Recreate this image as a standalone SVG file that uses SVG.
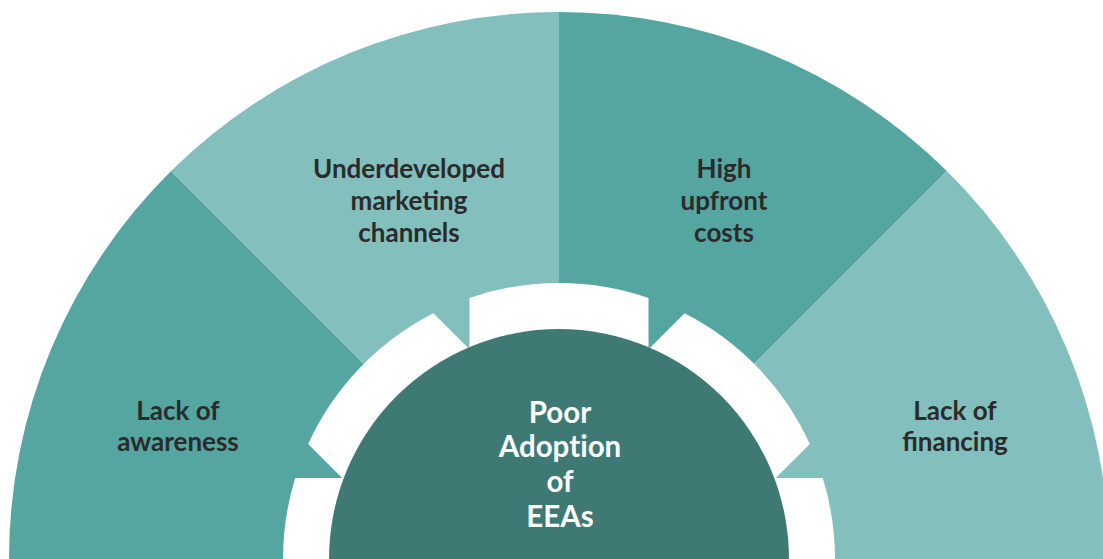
<svg xmlns="http://www.w3.org/2000/svg" width="1103" height="559" viewBox="0 0 1103 559">
  <style>
    .dark { fill: #55A5A1; }
    .light { fill: #82BFBD; }
    .ring { fill: #FFFFFF; }
    .hub { fill: #3E7973; }
    .lbl { font-family: Lato, "Open Sans", "Liberation Sans", sans-serif; font-weight: 700; font-size: 26px; fill: #2B2B2B; text-anchor: middle; }
    .hubtxt { font-family: Lato, "Open Sans", "Liberation Sans", sans-serif; font-weight: 700; font-size: 29.5px; fill: #FFFFFF; text-anchor: middle; font-variant-ligatures: none; }
  </style>
  <rect width="1103" height="559" fill="#FFFFFF"/>
  <g id="node-awareness">
    <path class="dark" d="M559,559 L9,559 A550 547 0 0 1 171.1,171.1 Z"/>
    <text class="lbl" x="178" y="420">Lack of</text>
    <text class="lbl" x="178" y="451">awareness</text>
  </g>
  <g id="node-marketing">
    <path class="light" d="M559,559 L171.1,171.1 A550 547 0 0 1 559,12 Z"/>
    <text class="lbl" x="409" y="178">Underdeveloped</text>
    <text class="lbl" x="409" y="210">marketing</text>
    <text class="lbl" x="409" y="242">channels</text>
  </g>
  <g id="node-costs">
    <path class="dark" d="M559,559 L559,12 A550 547 0 0 1 946.9,171.1 Z"/>
    <text class="lbl" x="724" y="178">High</text>
    <text class="lbl" x="724" y="210">upfront</text>
    <text class="lbl" x="724" y="242">costs</text>
  </g>
  <g id="node-financing">
    <path class="light" d="M559,559 L946.9,171.1 A550 547 0 0 1 1109,559 Z"/>
    <text class="lbl" x="955" y="420">Lack of</text>
    <text class="lbl" x="955" y="451">financing</text>
  </g>
  <g id="ring">
    <path class="ring" d="M295.2,478 A276 276 0 0 0 283.1,565 L400,565 L400,478 Z"/>
    <path class="ring" d="M433.4,313.2 A276 276 0 0 0 308.1,443.9 L385,520.8 L513,392.8 Z"/>
    <path class="ring" d="M469.5,297.9 A276 276 0 0 1 648.5,297.9 L648.5,420 L469.5,420 Z"/>
    <path class="ring" d="M684.6,313.2 A276 276 0 0 1 809.9,443.9 L733,520.8 L605,392.8 Z"/>
    <path class="ring" d="M822.8,478 A276 276 0 0 1 834.9,565 L718,565 L718,478 Z"/>
  </g>
  <g id="node-center">
    <circle class="hub" cx="559" cy="559" r="230"/>
    <text class="hubtxt" x="560" y="423">Poor</text>
    <text class="hubtxt" x="560" y="457">Adoption</text>
    <text class="hubtxt" x="560" y="492">of</text>
    <text class="hubtxt" x="560" y="527">EEAs</text>
  </g>
  <g id="connectors"/>
</svg>
